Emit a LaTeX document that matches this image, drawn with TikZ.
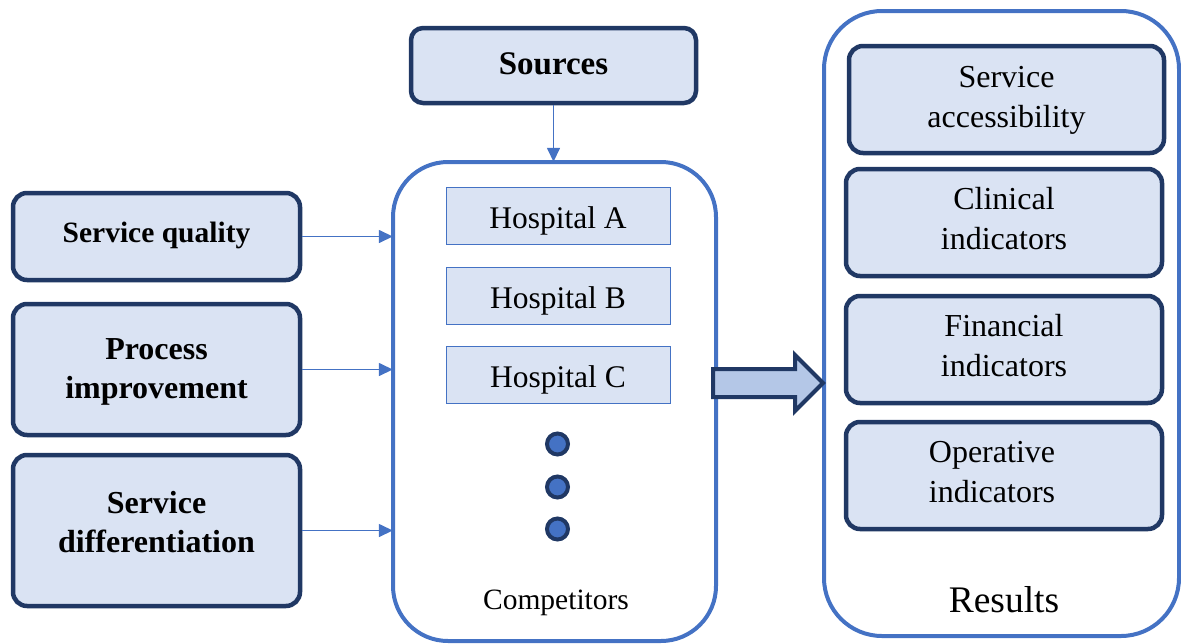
\documentclass[tikz,border=0pt]{standalone}
\usepackage{fontspec}
\setmainfont{Liberation Serif}
\usetikzlibrary{arrows.meta}

\definecolor{navy}{HTML}{203864}
\definecolor{accent}{HTML}{4472C4}
\definecolor{pale}{HTML}{DAE3F3}
\definecolor{arrowfill}{HTML}{B4C7E7}

% centred lines of text, shifted up by the optional amount without changing the box size
\newcommand\textstack[2][0pt]{\raisebox{#1}[\height][\depth]{\begin{tabular}{@{}c@{}}#2\end{tabular}}}

\tikzset{
  darkbox/.style={draw=navy, line width=4.5pt, fill=pale, rounded corners=14pt,
    align=center, inner sep=0pt},
  factor/.style={darkbox, minimum width=287pt, font=\fontsize{32}{39}\selectfont\bfseries},
  result/.style={darkbox, minimum width=316pt, minimum height=107pt,
    font=\fontsize{32}{39.5}\selectfont},
  hospital/.style={draw=accent, line width=1pt, fill=pale, minimum width=224pt,
    minimum height=57pt, inner sep=0pt, font=\fontsize{31.5}{36}\selectfont},
  container/.style={draw=accent, line width=4pt, inner sep=0pt},
  dot/.style={circle, draw=navy, fill=accent, line width=4pt, minimum size=21pt, inner sep=0pt},
  link/.style={draw=accent, line width=1.5pt, -{Triangle[length=14pt,width=13pt]}},
  bigarrow/.style={draw=navy, fill=arrowfill, line width=4pt, line join=miter},
}

\begin{document}
\begin{tikzpicture}[x=1pt, y=-1pt]
\useasboundingbox (0,0) rectangle (1181,643);

% containers
\draw[container, rounded corners=55pt] (393,162) rectangle (716,641);
\node[inner sep=0pt, minimum width=323pt, minimum height=479pt] (comp) at (554.5,401.5) {};
\draw[container, rounded corners=58pt] (824,11) rectangle (1179,636);
\node[inner sep=0pt, minimum width=355pt, minimum height=625pt] (res) at (1001.5,323.5) {};

% sources
\node[darkbox, minimum width=285pt, minimum height=75pt, rounded corners=12pt,
      font=\fontsize{33}{39}\selectfont\bfseries] (src) at (553.5,65.5) {\textstack[-1pt]{Sources}};
\draw[link] (src.south) -- (src.south |- comp.north);

% factors on the left
\node[factor, minimum height=87pt, font=\fontsize{29.5}{39}\selectfont\bfseries] (sq) at (156.5,236.5)
  {\textstack[2pt]{Service quality}};
\node[factor, minimum height=131pt] (pi) at (156.5,369.5) {\textstack[-2pt]{Process\\improvement}};
\node[factor, minimum height=151pt] (sd) at (156.5,530.5) {\textstack[5pt]{Service\\differentiation}};

\draw[link] (sq.east) -- (sq.east -| comp.west);
\draw[link] (pi.east) -- (pi.east -| comp.west);
\draw[link] (sd.east) -- (sd.east -| comp.west);

% competitors
\node[hospital] (ha) at (558,215.5) {\textstack[-6pt]{Hospital A}};
\node[hospital] (hb) at (558,295.5) {\textstack[-6pt]{Hospital B}};
\node[hospital] (hc) at (558,374.5) {\textstack[-6pt]{Hospital C}};
\node[dot] (d1) at (557.5,444) {};
\node[dot] (d2) at (557.5,487) {};
\node[dot] (d3) at (557.5,529) {};
\node[font=\fontsize{29.5}{34}\selectfont] (ctext) at (556,603) {Competitors};

% results
\node[result, minimum width=315pt] (acc) at (1006.5,99.5) {\textstack{Service\\accessibility}};
\node[result] (clin) at (1004,222.5) {\textstack[1pt]{Clinical\\indicators}};
\node[result] (fin) at (1004,349.5) {\textstack[1pt]{Financial\\indicators}};
\node[result] (op) at (1004,475.5) {\textstack[1pt]{\hspace*{-24pt}Operative\\\hspace*{-24pt}indicators}};
\node[font=\fontsize{37.5}{42}\selectfont] (rtext) at (1004,600) {Results};

% block arrow from competitors to results
\draw[bigarrow] (713,369) -- (795,369) -- (795,355) -- (823,383) -- (795,411)
  -- (795,397) -- (713,397) -- cycle;
\end{tikzpicture}
\end{document}
